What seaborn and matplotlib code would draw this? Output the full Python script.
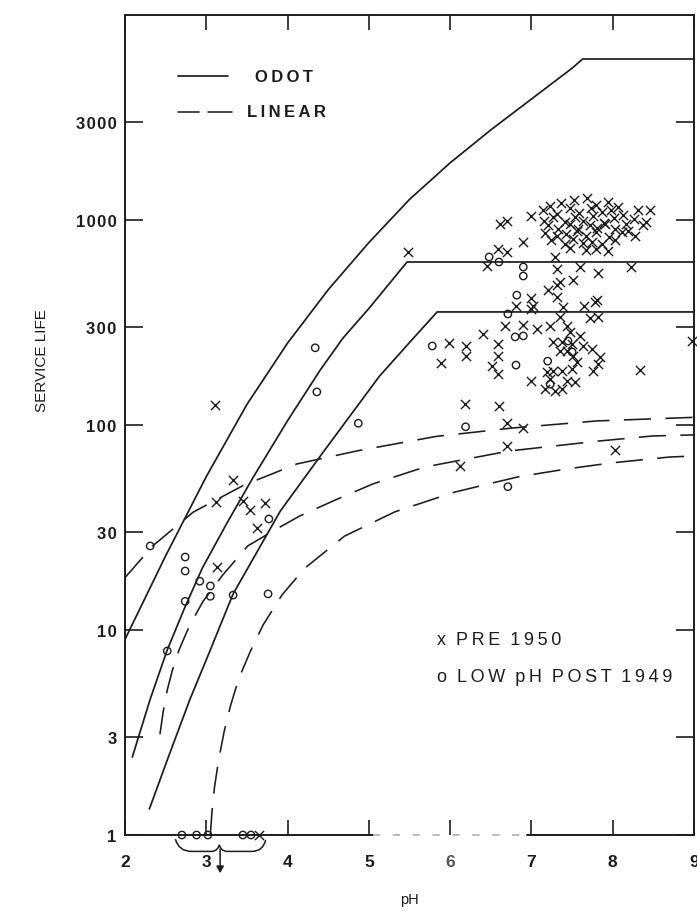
import numpy as np
import pandas as pd
import matplotlib
matplotlib.use("Agg")
import matplotlib.pyplot as plt
import seaborn as sns
from matplotlib.transforms import blended_transform_factory
from matplotlib.path import Path
from matplotlib.patches import PathPatch, FancyArrowPatch

# ---------------- ODOT service-life curves (solid) ----------------
odot_a_ph = [2.0, 2.5, 3.0, 3.5, 4.0, 4.5, 5.0, 5.5, 6.0, 6.5, 7.0, 7.5, 7.63, 9.0]
odot_a_life = [9.0, 23, 56, 126, 251, 457, 776, 1260, 1900, 2750, 3890, 5500, 6100, 6100]

odot_b_ph = [2.09, 2.31, 2.52, 2.74, 2.95, 3.25, 3.57, 4.0, 4.40, 4.68, 5.0, 5.47, 9.0]
odot_b_life = [2.4, 4.6, 8.0, 13, 20, 33, 55, 105, 185, 265, 370, 624, 624]

odot_c_ph = [2.30, 2.55, 2.80, 3.05, 3.33, 3.54, 3.91, 4.43, 5.13, 5.54, 5.84, 9.0]
odot_c_life = [1.34, 2.5, 4.6, 8.0, 15, 21, 38, 73, 173, 263, 356, 356]

# ---------------- linear-model curves (dashed) ----------------
lin_a_ph = [2.0, 2.34, 2.84, 3.45, 4.11, 4.85, 5.83, 6.77, 7.81, 9.0]
lin_a_life = [18, 25.7, 37.6, 50.6, 64.5, 74.7, 88, 96.7, 104.7, 109]

lin_b_ph = [2.43, 2.47, 2.52, 2.58, 2.66, 2.76, 2.86, 2.96, 3.2, 3.51, 3.82, 4.15,
            4.56, 5.05, 5.69, 6.2, 6.73, 7.28, 7.84, 8.49, 9.0]
lin_b_life = [3.1, 4.0, 5.1, 6.3, 7.9, 9.8, 11.7, 13.8, 18.5, 25.7, 30.4, 36,
              42.6, 51.6, 62.4, 68.2, 74.7, 79, 83.6, 88.4, 89.5]

lin_c_ph = [3.05, 3.07, 3.10, 3.15, 3.22, 3.30, 3.40, 3.55, 3.70, 3.93, 4.21, 4.70,
            5.32, 6.05, 6.83, 7.43, 7.98, 8.70, 9.0]
lin_c_life = [1.0, 1.3, 1.7, 2.3, 3.2, 4.3, 5.8, 8.0, 10.6, 14.8, 20, 28.7,
              37.7, 47, 55.8, 61, 65.3, 69.8, 70.6]

# ---------------- field observations ----------------
pre1950_ph = [
    3.11, 3.33, 3.12, 3.45, 3.54, 3.72, 3.62, 3.13, 3.65,
    5.48, 6.18, 6.60, 6.70, 6.90, 6.70, 6.12, 8.03, 8.33, 8.97,
    7.35, 7.44, 7.47, 7.60, 7.38, 7.50, 7.63, 7.26, 7.35, 7.51, 7.44, 7.56,
    7.74, 7.84, 7.82, 7.76, 7.50, 7.38, 7.26, 7.19, 7.23, 7.44, 7.54, 7.38,
    7.17, 7.29, 6.90, 7.07, 7.23, 6.99, 6.40, 6.59, 6.59, 6.51, 6.59, 6.67,
    6.81, 7.00, 7.00, 5.89, 5.99, 6.19, 6.19, 7.39, 7.72, 7.82, 7.65, 7.81,
    7.31, 7.20, 7.32, 7.51, 7.31, 7.60, 7.82, 8.22, 6.45, 6.59, 6.70, 6.90,
    6.61, 6.70, 6.99, 7.02, 7.78, 7.35, 7.29,
    7.23, 7.52, 7.68, 7.79, 7.94, 8.07, 7.36,
    7.14, 7.31, 7.47, 7.58, 7.73, 7.87, 7.98, 8.13, 8.31, 8.46,
    7.16, 7.26, 7.41, 7.54, 7.63, 7.76, 7.89, 8.01, 8.16, 8.26, 8.41,
    7.21, 7.33, 7.47, 7.57, 7.72, 7.81, 7.91, 8.03, 8.19, 8.37,
    7.17, 7.31, 7.43, 7.56, 7.67, 7.79, 7.96, 8.11, 8.28,
    7.24, 7.41, 7.51, 7.63, 7.75, 7.87, 8.03,
    7.47, 7.67, 7.79, 7.94,
]
pre1950_life = [
    125, 54, 42, 42.6, 38.5, 41.7, 31.5, 20.3, 1.0,
    698, 127, 124, 102, 97, 79, 63, 75.5, 185, 257,
    336, 304, 284, 272, 254, 248, 243, 254, 230, 217, 230, 203,
    235, 215, 199, 183, 188, 183, 183, 181, 168, 164, 162, 150,
    150, 147, 307, 294, 304, 164, 278, 248, 217, 194, 177, 304,
    381, 417, 368, 200, 251, 243, 217, 376, 333, 336, 381, 407,
    421, 456, 482, 510, 577, 590, 551, 590, 597, 722, 698, 781,
    956, 989, 1047, 381, 398, 499, 660,
    1170, 1250, 1280, 1190, 1230, 1160, 1210,
    1120, 1070, 1140, 1085, 1150, 1100, 1125, 1060, 1115, 1120,
    985, 1030, 975, 1040, 990, 1050, 970, 1025, 960, 1010, 975,
    945, 900, 955, 905, 945, 915, 955, 905, 885, 945,
    865, 840, 855, 880, 835, 875, 825, 870, 835,
    800, 760, 810, 770, 785, 760, 795,
    730, 715, 725, 705,
]

post1949_ph = [
    2.31, 2.74, 2.74, 2.92, 3.05, 3.05, 2.74, 3.33, 3.76, 2.52, 3.77,
    4.34, 4.36, 4.87, 6.19, 6.71, 5.78, 6.48, 6.60, 6.90, 6.90, 6.82,
    6.71, 6.80, 6.90, 6.81, 7.45, 7.50, 7.20, 7.23,
    2.70, 2.88, 3.02, 3.45, 3.55,
]
post1949_life = [
    25.7, 22.7, 19.4, 17.3, 16.4, 14.6, 13.8, 14.8, 15.0, 7.9, 34.8,
    238, 145, 102, 98, 50, 243, 660, 624, 590, 533, 430,
    348, 269, 272, 196, 257, 227, 205, 158,
    1.0, 1.0, 1.0, 1.0, 1.0,
]

y_ticks = [1, 3, 10, 30, 100, 300, 1000, 3000]
x_ticks = [2, 3, 4, 5, 6, 7, 8, 9]

TS = "\u2009"  # thin space for letter tracking
HS = "\u200a"  # hair space for tighter tracking


def tracked(s, sep=TS):
    return sep.join(s)


sns.set_style("white")
plt.rcParams["font.family"] = ["Liberation Sans", "DejaVu Sans"]
ink = "#1c1c1c"

W, H = 697, 912
fig = plt.figure(figsize=(W / 100, H / 100), dpi=100)
ax_left, ax_right, ax_top, ax_bottom = 125, 694, 16, 836
ax = fig.add_axes([ax_left / W, 1 - ax_bottom / H,
                   (ax_right - ax_left) / W, (ax_bottom - ax_top) / H])
ax.set_yscale("log")

# solid ODOT curves
for ph, life in [(odot_a_ph, odot_a_life), (odot_b_ph, odot_b_life), (odot_c_ph, odot_c_life)]:
    sns.lineplot(x=ph, y=life, ax=ax, color=ink, linewidth=1.25,
                 sort=False, estimator=None)

# dashed linear-model curves
for ph, life in [(lin_a_ph, lin_a_life), (lin_b_ph, lin_b_life), (lin_c_ph, lin_c_life)]:
    sns.lineplot(x=ph, y=life, ax=ax, color=ink, linewidth=1.15,
                 linestyle=(0, (17, 9)), sort=False, estimator=None)

# observations
sns.scatterplot(x=pre1950_ph, y=pre1950_life, ax=ax, marker="x", s=44,
                color=ink, edgecolor=ink, linewidth=1.0, clip_on=False, zorder=4)
sns.scatterplot(x=post1949_ph, y=post1949_life, ax=ax, marker="o", s=28,
                facecolor="none", edgecolor=ink, linewidth=1.0, clip_on=False, zorder=4)

ax.set_xlim(2, 9)
ax.set_ylim(1, 10000)
ax.set_yticks(y_ticks)
ax.set_yticklabels([tracked(str(v), HS) for v in y_ticks], fontsize=12,
                   fontweight="bold", color=ink)
ax.yaxis.set_minor_locator(matplotlib.ticker.NullLocator())
ax.set_xticks(x_ticks)
ax.set_xticklabels([str(v) for v in x_ticks], fontsize=12.5, fontweight="bold", color=ink)
ax.get_xticklabels()[4].set_color("#555555")
ax.tick_params(axis="y", direction="in", length=13, width=1.2, color=ink,
               left=True, right=True, pad=6)
ax.tick_params(axis="x", direction="in", length=11, width=1.2, color=ink,
               bottom=True, top=True, pad=14)

for side in ["left", "right", "top"]:
    ax.spines[side].set_color(ink)
    ax.spines[side].set_linewidth(1.4)
ax.spines["bottom"].set_visible(False)

# bottom frame line, faint across the middle of the scale
ax.plot([2, 5.05], [1, 1], color=ink, lw=1.4, clip_on=False, zorder=5)
ax.plot([5.05, 6.95], [1, 1], color="#b5b5b5", lw=1.3, linestyle=(0, (4, 7)),
        clip_on=False, zorder=5)
ax.plot([6.95, 9], [1, 1], color=ink, lw=1.4, clip_on=False, zorder=5)

ax.set_xlabel("pH", fontsize=10.5, color=ink, labelpad=16)
ax.set_ylabel("SERVICE LIFE", fontsize=11, color=ink)
ax.yaxis.set_label_coords(-0.133, 0.58)

# brace and arrow gathering the points below the scale
bt = blended_transform_factory(ax.transData, ax.transAxes)
brace = Path(
    [(2.62, -0.005), (2.66, -0.02), (2.82, -0.02),
     (3.06, -0.02),
     (3.12, -0.02), (3.15, -0.016), (3.16, -0.012),
     (3.17, -0.016), (3.20, -0.02), (3.26, -0.02),
     (3.56, -0.02),
     (3.70, -0.02), (3.73, -0.006)],
    [Path.MOVETO, Path.CURVE3, Path.CURVE3,
     Path.LINETO,
     Path.CURVE4, Path.CURVE4, Path.CURVE4,
     Path.CURVE4, Path.CURVE4, Path.CURVE4,
     Path.LINETO,
     Path.CURVE3, Path.CURVE3])
ax.add_patch(PathPatch(brace, transform=bt, fill=False, edgecolor=ink, lw=1.1, clip_on=False))
ax.add_patch(FancyArrowPatch((3.17, -0.014), (3.17, -0.05), transform=bt,
                             arrowstyle="-|>,head_length=4,head_width=2.2",
                             color=ink, lw=1.1, clip_on=False))

# legend for the curves
ax.plot([0.093, 0.181], [0.9256, 0.9256], transform=ax.transAxes, color=ink, lw=1.25)
ax.text(0.228, 0.9256, tracked("ODOT"), transform=ax.transAxes, fontsize=12,
        fontweight="bold", va="center", ha="left", color=ink)
ax.plot([0.093, 0.13], [0.882, 0.882], transform=ax.transAxes, color=ink, lw=1.15)
ax.plot([0.146, 0.188], [0.882, 0.882], transform=ax.transAxes, color=ink, lw=1.15)
ax.text(0.214, 0.882, tracked("LINEAR"), transform=ax.transAxes, fontsize=12,
        fontweight="bold", va="center", ha="left", color=ink)

# legend for the observation groups
ax.text(0.548, 0.238, "  ".join(tracked(w) for w in ["x", "PRE", "1950"]),
        transform=ax.transAxes, fontsize=13, va="center", ha="left", color=ink)
ax.text(0.548, 0.193, "  ".join(tracked(w) for w in ["o", "LOW", "pH", "POST", "1949"]),
        transform=ax.transAxes, fontsize=13, va="center", ha="left", color=ink)

fig.savefig("out.png", dpi=100, facecolor="white")
